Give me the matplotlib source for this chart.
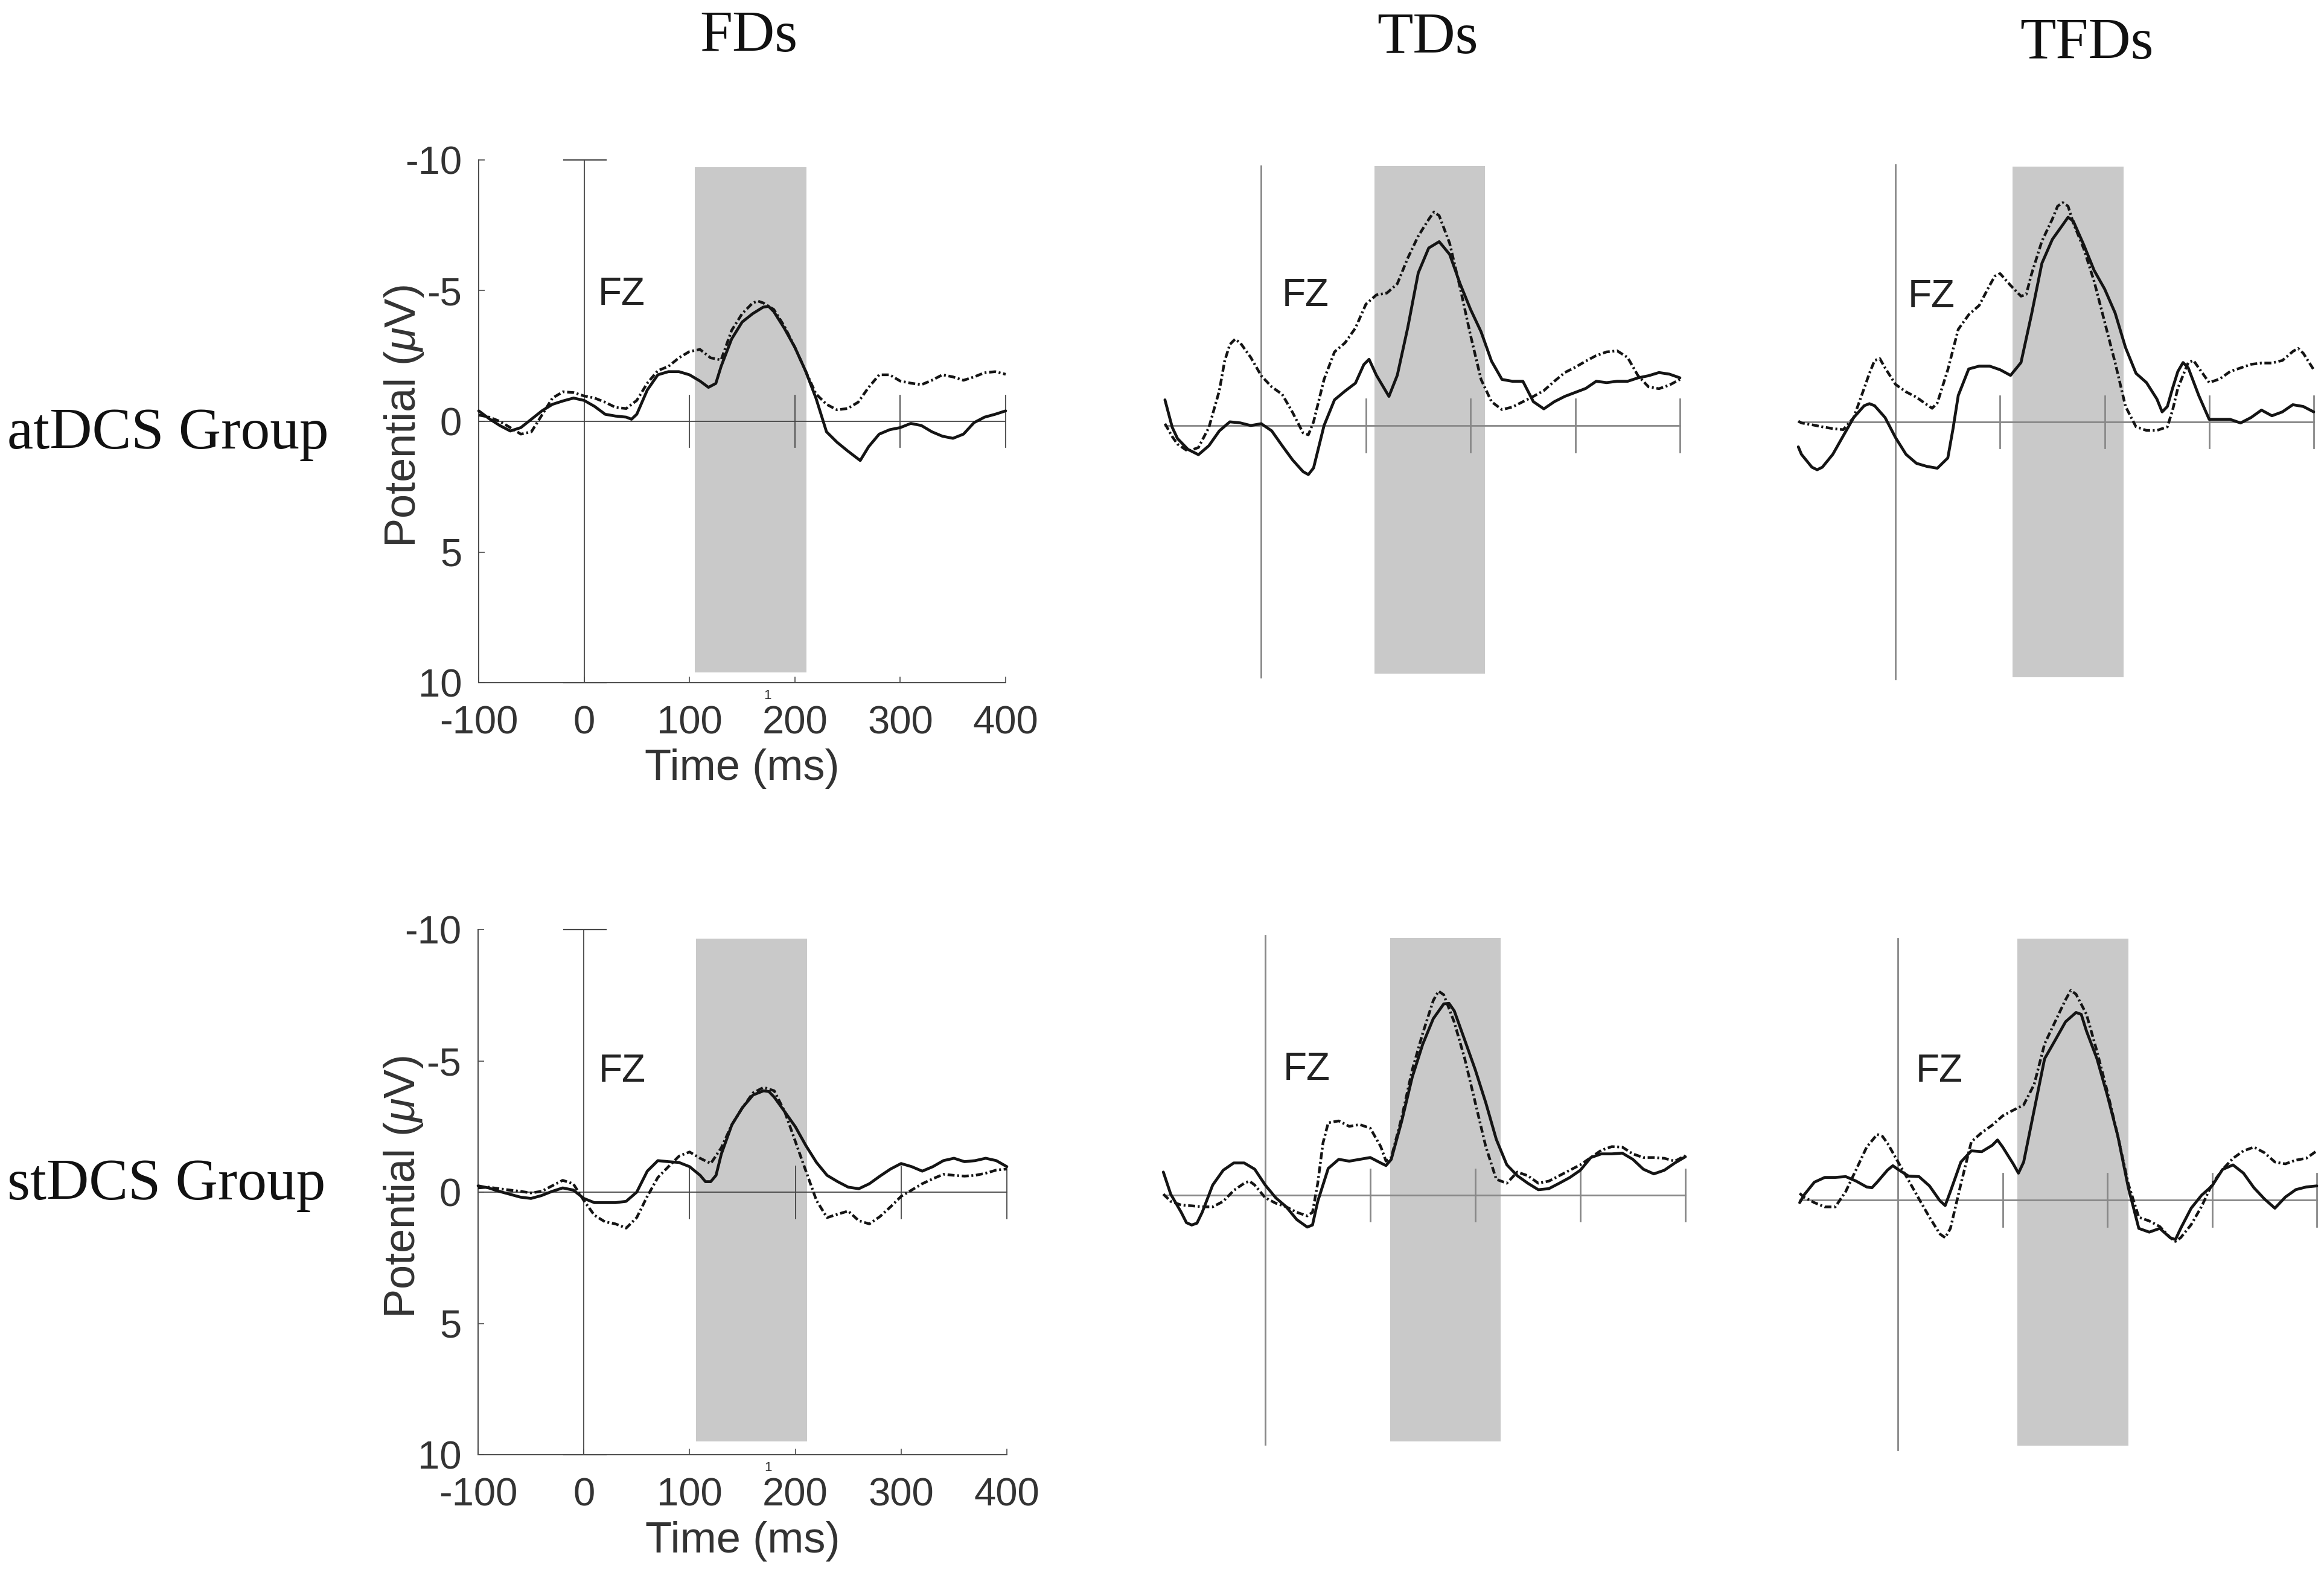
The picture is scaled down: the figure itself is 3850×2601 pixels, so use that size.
import matplotlib
matplotlib.use("Agg")
import matplotlib.pyplot as plt

plt.rcParams["axes.unicode_minus"] = False
plt.rcParams["mathtext.fontset"] = "custom"
plt.rcParams["mathtext.it"] = "Liberation Sans:italic"
plt.rcParams["mathtext.rm"] = "Liberation Sans"

col_titles = ["FDs", "TDs", "TFDs"]
row_titles = ["atDCS Group", "stDCS Group"]
x_ticks = [-100, 0, 100, 200, 300, 400]
y_ticks = [-10, -5, 0, 5, 10]
zero_ticks = [100, 200, 300, 400]
electrode = "FZ"

# ERP at FZ, (time ms, potential uV); solid and dash-dot traces
fd_at_solid = [(-100, -0.4), (-90, -0.1), (-80, 0.16), (-70, 0.37), (-60, 0.24), (-50, -0.08),
               (-40, -0.4), (-30, -0.65), (-20, -0.78), (-10, -0.89), (0, -0.8), (10, -0.57),
               (20, -0.27), (30, -0.2), (40, -0.16), (45, -0.08), (50, -0.27), (60, -1.2),
               (70, -1.78), (80, -1.9), (90, -1.9), (100, -1.78), (110, -1.54), (118, -1.3),
               (125, -1.45), (130, -2.1), (140, -3.15), (150, -3.8), (160, -4.12), (170, -4.37),
               (175, -4.4), (180, -4.2), (190, -3.56), (200, -2.83), (210, -1.94), (220, -0.89),
               (230, 0.4), (240, 0.8), (250, 1.13), (262, 1.5), (270, 0.97), (280, 0.49),
               (290, 0.32), (300, 0.24), (310, 0.08), (320, 0.16), (330, 0.4), (340, 0.57),
               (350, 0.65), (360, 0.49), (370, 0.05), (380, -0.16), (390, -0.27), (400, -0.4)]
fd_at_dash = [(-100, -0.24), (-90, -0.16), (-80, 0.0), (-70, 0.24), (-60, 0.49), (-50, 0.4),
              (-40, -0.24), (-30, -0.89), (-20, -1.13), (-10, -1.1), (0, -0.97), (10, -0.89),
              (20, -0.73), (30, -0.53), (40, -0.49), (50, -0.8), (60, -1.46), (70, -1.94),
              (80, -2.1), (90, -2.43), (100, -2.67), (110, -2.75), (120, -2.43), (130, -2.35),
              (140, -3.48), (150, -4.12), (160, -4.53), (165, -4.6), (170, -4.53), (180, -4.28),
              (190, -3.64), (200, -2.83), (210, -1.94), (220, -1.05), (230, -0.65), (240, -0.44),
              (250, -0.49), (260, -0.73), (270, -1.3), (280, -1.78), (290, -1.78), (300, -1.54),
              (310, -1.46), (320, -1.4), (330, -1.57), (340, -1.78), (350, -1.7), (360, -1.57),
              (370, -1.7), (380, -1.86), (390, -1.9), (400, -1.8)]

td_at_solid = [(-92, -0.97), (-85, 0.07), (-80, 0.49), (-70, 0.9), (-60, 1.1), (-50, 0.76),
               (-40, 0.2), (-30, -0.14), (-20, -0.1), (-10, 0.0), (0, -0.07), (10, 0.2),
               (20, 0.76), (30, 1.3), (40, 1.74), (45, 1.85), (50, 1.6), (60, 0.0), (70, -0.97),
               (80, -1.3), (90, -1.6), (98, -2.3), (103, -2.5), (110, -1.9), (122, -1.1),
               (130, -1.9), (140, -3.7), (150, -5.76), (160, -6.7), (170, -6.94), (180, -6.46),
               (190, -5.35), (200, -4.38), (210, -3.54), (220, -2.43), (230, -1.74), (240, -1.67),
               (250, -1.67), (260, -0.9), (270, -0.63), (280, -0.9), (290, -1.1), (300, -1.25),
               (310, -1.4), (320, -1.67), (330, -1.62), (340, -1.67), (350, -1.67), (360, -1.8),
               (370, -1.88), (380, -2.0), (390, -1.94), (400, -1.8)]
td_at_dash = [(-92, -0.07), (-85, 0.42), (-80, 0.7), (-70, 0.97), (-60, 0.83), (-50, 0.07),
              (-40, -1.32), (-35, -2.43), (-30, -3.06), (-25, -3.26), (-20, -3.12), (-10, -2.57),
              (0, -1.88), (10, -1.46), (20, -1.18), (30, -0.49), (40, 0.28), (45, 0.35),
              (50, -0.14), (60, -1.74), (70, -2.78), (80, -3.12), (90, -3.68), (100, -4.58),
              (110, -4.93), (120, -5.0), (130, -5.35), (140, -6.32), (150, -7.15), (160, -7.78),
              (165, -8.06), (170, -7.92), (180, -6.88), (190, -5.2), (200, -3.4), (210, -1.74),
              (220, -0.9), (230, -0.6), (240, -0.7), (250, -0.9), (260, -1.1), (270, -1.32),
              (280, -1.67), (290, -2.0), (300, -2.2), (310, -2.43), (320, -2.64), (330, -2.78),
              (340, -2.82), (350, -2.57), (360, -1.88), (370, -1.46), (380, -1.39), (390, -1.53),
              (400, -1.74)]

tfd_at_solid = [(-93, 0.97), (-90, 1.26), (-80, 1.76), (-75, 1.86), (-70, 1.76), (-60, 1.26),
                (-50, 0.54), (-40, -0.17), (-30, -0.63), (-25, -0.71), (-20, -0.63), (-10, -0.17),
                (0, 0.61), (10, 1.26), (20, 1.61), (30, 1.73), (40, 1.8), (50, 1.4), (55, 0.26),
                (60, -1.03), (70, -2.06), (80, -2.17), (90, -2.17), (100, -2.03), (110, -1.81),
                (120, -2.31), (130, -4.17), (140, -6.17), (150, -7.1), (160, -7.67), (165, -7.96),
                (170, -7.81), (180, -6.89), (190, -5.89), (200, -5.17), (210, -4.24), (220, -2.89),
                (230, -1.89), (240, -1.53), (250, -0.89), (255, -0.39), (260, -0.6), (265, -1.31),
                (270, -1.96), (275, -2.31), (280, -2.1), (290, -1.03), (300, -0.1), (310, -0.1),
                (320, -0.1), (330, 0.04), (340, -0.17), (350, -0.46), (360, -0.24), (370, -0.39),
                (380, -0.67), (390, -0.6), (400, -0.39)]
tfd_at_dash = [(-93, -0.03), (-90, 0.04), (-80, 0.11), (-70, 0.19), (-60, 0.26), (-50, 0.3),
               (-40, -0.17), (-30, -1.31), (-25, -1.89), (-20, -2.39), (-15, -2.46), (-10, -2.1),
               (0, -1.46), (10, -1.17), (20, -0.96), (30, -0.67), (35, -0.53), (40, -0.74),
               (50, -2.03), (60, -3.6), (70, -4.17), (80, -4.53), (90, -5.31), (95, -5.67),
               (100, -5.77), (110, -5.31), (120, -4.89), (125, -4.96), (130, -5.74), (140, -7.03),
               (150, -7.89), (155, -8.39), (160, -8.53), (165, -8.39), (170, -7.74), (180, -6.74),
               (190, -5.46), (200, -3.89), (210, -2.31), (220, -0.6), (230, 0.19), (240, 0.33),
               (250, 0.33), (260, 0.19), (265, -0.46), (270, -1.31), (280, -2.31), (285, -2.39),
               (290, -2.1), (300, -1.53), (310, -1.67), (320, -1.96), (330, -2.1), (340, -2.24),
               (350, -2.29), (360, -2.29), (370, -2.39), (380, -2.74), (385, -2.86), (390, -2.67),
               (400, -2.03)]

fd_st_solid = [(-100, -0.24), (-90, -0.16), (-80, -0.03), (-70, 0.08), (-60, 0.19), (-50, 0.24),
               (-40, 0.13), (-30, -0.03), (-20, -0.16), (-10, -0.08), (0, 0.24), (10, 0.4),
               (20, 0.4), (30, 0.4), (40, 0.35), (50, 0.0), (60, -0.8), (70, -1.2), (80, -1.16),
               (90, -1.13), (100, -0.97), (110, -0.64), (115, -0.4), (120, -0.4), (125, -0.64),
               (130, -1.45), (140, -2.57), (150, -3.22), (160, -3.7), (170, -3.86), (175, -3.83),
               (180, -3.62), (190, -3.06), (200, -2.49), (210, -1.77), (220, -1.13), (230, -0.64),
               (240, -0.4), (250, -0.19), (260, -0.13), (270, -0.32), (280, -0.61), (290, -0.88),
               (300, -1.09), (310, -0.97), (320, -0.8), (330, -0.97), (340, -1.2), (350, -1.29),
               (360, -1.16), (370, -1.2), (380, -1.29), (390, -1.2), (400, -0.97)]
fd_st_dash = [(-100, -0.16), (-90, -0.19), (-80, -0.13), (-70, -0.08), (-60, -0.03), (-50, 0.03),
              (-40, -0.03), (-30, -0.24), (-20, -0.45), (-10, -0.32), (0, 0.32), (10, 0.88),
              (20, 1.13), (30, 1.21), (40, 1.37), (50, 0.97), (60, 0.16), (70, -0.56), (80, -0.97),
              (90, -1.37), (100, -1.53), (110, -1.29), (120, -1.09), (130, -1.69), (140, -2.57),
              (150, -3.22), (160, -3.78), (170, -3.99), (180, -3.86), (190, -3.06), (200, -1.93),
              (210, -0.8), (220, 0.32), (230, 0.97), (240, 0.84), (250, 0.72), (260, 1.09),
              (270, 1.21), (280, 0.93), (290, 0.56), (300, 0.16), (310, -0.08), (320, -0.32),
              (330, -0.51), (340, -0.68), (350, -0.64), (360, -0.61), (370, -0.64), (380, -0.72),
              (390, -0.84), (400, -0.88)]

td_st_solid = [(-97, -0.89), (-90, -0.04), (-80, 0.66), (-75, 1.06), (-70, 1.15), (-65, 1.08),
               (-60, 0.66), (-50, -0.39), (-40, -0.96), (-30, -1.24), (-20, -1.24), (-10, -1.0),
               (0, -0.39), (10, 0.1), (20, 0.45), (30, 0.94), (40, 1.23), (45, 1.15), (50, 0.24),
               (60, -1.03), (70, -1.38), (80, -1.31), (90, -1.38), (100, -1.45), (110, -1.24),
               (115, -1.14), (120, -1.38), (130, -2.86), (140, -4.55), (150, -5.82), (160, -6.8),
               (170, -7.37), (175, -7.39), (180, -7.1), (190, -5.97), (200, -4.83), (210, -3.56),
               (220, -2.15), (230, -1.17), (240, -0.75), (250, -0.46), (260, -0.21), (270, -0.25),
               (280, -0.46), (290, -0.68), (300, -0.96), (310, -1.45), (320, -1.59), (330, -1.59),
               (340, -1.62), (350, -1.38), (360, -1.0), (370, -0.82), (380, -0.96), (390, -1.24),
               (400, -1.48)]
td_st_dash = [(-97, -0.04), (-90, 0.24), (-80, 0.38), (-70, 0.41), (-60, 0.45), (-50, 0.45),
              (-40, 0.24), (-30, -0.18), (-20, -0.46), (-15, -0.54), (-10, -0.39), (0, 0.1),
              (10, 0.31), (20, 0.45), (30, 0.66), (40, 0.8), (45, 0.66), (50, -0.46), (55, -2.01),
              (60, -2.79), (70, -2.86), (80, -2.65), (90, -2.72), (100, -2.58), (110, -1.87),
              (115, -1.31), (120, -1.45), (130, -3.0), (140, -4.83), (150, -6.24), (160, -7.5),
              (165, -7.86), (170, -7.72), (180, -6.66), (190, -5.25), (200, -3.56), (210, -1.87),
              (220, -0.61), (230, -0.46), (240, -0.89), (250, -0.75), (260, -0.46), (270, -0.54),
              (280, -0.75), (290, -0.96), (300, -1.17), (310, -1.45), (320, -1.73), (330, -1.87),
              (340, -1.85), (350, -1.59), (360, -1.45), (370, -1.45), (380, -1.42), (390, -1.31),
              (400, -1.52)]

tfd_st_solid = [(-94, 0.1), (-90, -0.18), (-80, -0.67), (-70, -0.85), (-60, -0.85), (-50, -0.88),
                (-40, -0.71), (-30, -0.49), (-25, -0.46), (-20, -0.67), (-10, -1.13), (-5, -1.29),
                (0, -1.15), (10, -0.9), (20, -0.88), (30, -0.53), (40, 0.03), (45, 0.21),
                (50, -0.32), (60, -1.43), (70, -1.85), (80, -1.82), (90, -2.06), (95, -2.26),
                (100, -1.99), (110, -1.36), (115, -1.01), (120, -1.43), (130, -3.38), (140, -5.32),
                (150, -6.01), (160, -6.71), (170, -7.06), (175, -6.99), (180, -6.36), (190, -5.32),
                (200, -3.93), (210, -2.4), (220, -0.46), (230, 1.07), (240, 1.21), (250, 1.07),
                (260, 1.42), (265, 1.49), (270, 1.07), (280, 0.31), (290, -0.18), (300, -0.53),
                (310, -1.15), (320, -1.32), (330, -1.01), (340, -0.46), (350, -0.04), (360, 0.31),
                (370, -0.11), (380, -0.39), (390, -0.49), (400, -0.53)]
tfd_st_dash = [(-94, -0.25), (-90, -0.11), (-80, 0.1), (-70, 0.26), (-60, 0.26), (-50, -0.32),
               (-40, -1.15), (-30, -1.99), (-20, -2.47), (-15, -2.4), (-10, -2.13), (0, -1.43),
               (10, -0.74), (20, -0.04), (30, 0.65), (40, 1.28), (45, 1.42), (50, 1.07),
               (60, -0.6), (70, -2.19), (80, -2.54), (90, -2.82), (100, -3.17), (110, -3.38),
               (120, -3.58), (130, -4.35), (140, -5.88), (150, -6.71), (160, -7.54), (165, -7.89),
               (170, -7.75), (180, -6.99), (190, -5.6), (200, -4.07), (210, -2.4), (220, -0.6),
               (230, 0.65), (240, 0.79), (250, 1.0), (260, 1.42), (265, 1.56), (270, 1.42),
               (280, 0.93), (290, 0.24), (300, -0.6), (310, -1.15), (320, -1.57), (330, -1.85),
               (340, -1.99), (350, -1.78), (360, -1.43), (370, -1.36), (380, -1.5), (390, -1.57),
               (400, -1.85)]

# shaded analysis windows (ms)
windows_at = [(105, 211), (108, 214), (112, 218)]
windows_st = [(106, 211), (119, 224), (114, 220)]

traces = [[(fd_at_solid, fd_at_dash), (td_at_solid, td_at_dash), (tfd_at_solid, tfd_at_dash)],
          [(fd_st_solid, fd_st_dash), (td_st_solid, td_st_dash), (tfd_st_solid, tfd_st_dash)]]
windows = [windows_at, windows_st]

# layout, in pixels of the 3850x2601 canvas: x(-100), x(400), y(-10), y(10)
W, H = 3850, 2601
boxes = [[(793, 1666, 265, 1131), (1916, 2783, 266, 1144), (2967, 3833, 273, 1125)],
         [(792, 1668, 1540, 2410), (1922, 2792, 1550, 2410), (2971, 3838, 1548, 2428)]]
vline_span = [[(-10, 10), (-9.8, 9.5), (-10, 10)], [(-10, 10), (-10, 9.6), (-9.85, 9.4)]]
shade_span = [[(-9.73, 9.6), (-9.79, 9.36), (-9.94, 9.93)], [(-9.66, 9.5), (-9.9, 9.5), (-9.85, 9.25)]]
fz_pos = [[(13, -4.85), (20, -4.9), (12, -4.86)], [(14, -4.6), (17, -4.84), (17, -4.84)]]

SANS = "Liberation Sans"
SERIF = "Liberation Serif"
INK = "#141414"
AXIS = "#4a4a4a"
SHADE = "#c9c9c9"
DASH = (0, (2.6, 1.0, 0.7, 1.0))

fig = plt.figure(figsize=(W / 100, H / 100), dpi=100)

for r in range(2):
    for c in range(3):
        x0, x1, y0, y1 = boxes[r][c]
        ax = fig.add_axes([x0 / W, 1 - y1 / H, (x1 - x0) / W, (y1 - y0) / H])
        ax.set_xlim(-100, 400)
        ax.set_ylim(10, -10)
        ax.patch.set_alpha(0)
        solid, dashed = traces[r][c]
        t_start = solid[0][0]
        left = c == 0

        lo, hi = windows[r][c]
        s0, s1 = shade_span[r][c]
        ax.fill_between([lo, hi], s0, s1, color=SHADE, lw=0, zorder=0)

        zcol = "#444444" if left else "#888888"
        zlw = 1.3 if left else 2.0
        ax.plot([t_start, 400], [0, 0], color=zcol, lw=zlw, zorder=1, clip_on=False)
        for xt in zero_ticks:
            ax.plot([xt, xt], [-1, 1], color=zcol, lw=zlw, zorder=1, clip_on=False)
        v0, v1 = vline_span[r][c]
        ax.plot([0, 0], [v0, v1], color=zcol, lw=zlw, zorder=1, clip_on=False)
        if left:
            for yc in (-10, 10):
                ax.plot([-19, 21], [yc, yc], color=AXIS, lw=1.6, zorder=1, clip_on=False)

        t, v = zip(*dashed)
        ax.plot(t, v, color=INK, lw=3.2, ls=DASH, zorder=3, clip_on=False)
        t, v = zip(*solid)
        ax.plot(t, v, color=INK, lw=3.4, zorder=4, clip_on=False,
                solid_joinstyle="round", solid_capstyle="round")

        fx, fy = fz_pos[r][c]
        ax.text(fx, fy, electrode, family=SANS, fontsize=46, color="#222222",
                ha="left", va="center")

        if left:
            for side in ("top", "right"):
                ax.spines[side].set_visible(False)
            for side in ("left", "bottom"):
                ax.spines[side].set_color(AXIS)
                ax.spines[side].set_linewidth(1.4)
            ax.set_xticks(x_ticks)
            ax.set_xticklabels([str(x) for x in x_ticks])
            ax.set_yticks(y_ticks)
            ax.set_yticklabels([str(y) for y in y_ticks])
            ax.tick_params(direction="in", length=7, width=1.2, color=AXIS,
                           labelcolor="#333333", labelsize=47)
            ax.tick_params(axis="x", pad=27)
            ax.tick_params(axis="y", pad=20)
            for lab in ax.get_xticklabels() + ax.get_yticklabels():
                lab.set_family(SANS)
            ax.set_xlabel("Time (ms)", family=SANS, fontsize=52, color="#333333",
                          va="baseline")
            ax.xaxis.set_label_coords(0.5, -0.186)
            ax.set_ylabel("Potential ($\\mu$V)", family=SANS, fontsize=52,
                          color="#333333", va="center")
            ax.yaxis.set_label_coords(-0.141, 0.51)
            ax.text(174, 10.5, "1", family=SANS, fontsize=16, color="#333333",
                    ha="center", va="center", clip_on=False)
        else:
            ax.axis("off")

# column and row headings
title_pos = [(1240, 85), (2365, 88), (3457, 97)]
for title, (tx, ty) in zip(col_titles, title_pos):
    fig.text(tx / W, 1 - ty / H, title, family=SERIF, fontsize=70, color="#111111",
             ha="center", va="baseline")
row_base = [743, 1987]
for label, by in zip(row_titles, row_base):
    fig.text(12 / W, 1 - by / H, label, family=SERIF, fontsize=70, color="#111111",
             ha="left", va="baseline")

fig.savefig("out.png", dpi=100)
